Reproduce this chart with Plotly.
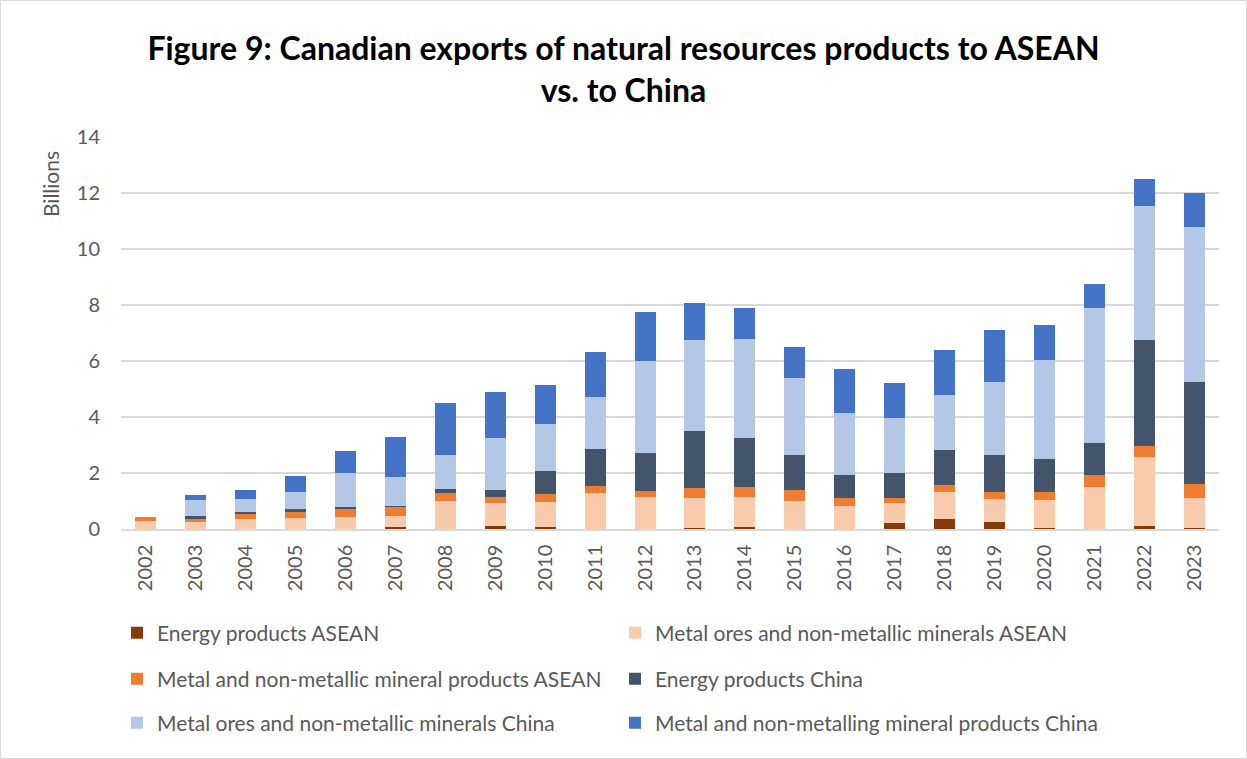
import plotly.graph_objects as go

# Years on the category axis
years = [str(y) for y in range(2002, 2024)]

# Export values, billions of dollars
energy_asean = [0, 0, 0, 0, 0, 0.07, 0, 0.12, 0.06, 0, 0, 0.04, 0.08, 0, 0, 0.21, 0.34, 0.24, 0.04, 0, 0.10, 0.05]
ores_asean = [0.29, 0.24, 0.35, 0.38, 0.44, 0.40, 0.99, 0.81, 0.915, 1.29, 1.15, 1.05, 1.05, 0.99, 0.83, 0.72, 0.98, 0.84, 0.98, 1.49, 2.46, 1.07]
products_asean = [0.13, 0.13, 0.19, 0.22, 0.27, 0.32, 0.28, 0.23, 0.26, 0.26, 0.19, 0.36, 0.36, 0.41, 0.26, 0.19, 0.26, 0.25, 0.29, 0.45, 0.40, 0.49]
energy_china = [0, 0.08, 0.06, 0.10, 0.08, 0.03, 0.16, 0.24, 0.84, 1.31, 1.38, 2.05, 1.75, 1.24, 0.84, 0.88, 1.23, 1.30, 1.18, 1.12, 3.79, 3.64]
ores_china = [0, 0.59, 0.47, 0.61, 1.20, 1.05, 1.22, 1.85, 1.67, 1.87, 3.28, 3.26, 3.56, 2.74, 2.20, 1.95, 1.96, 2.63, 3.55, 4.82, 4.80, 5.54]
products_china = [0, 0.19, 0.34, 0.58, 0.81, 1.43, 1.85, 1.64, 1.40, 1.59, 1.75, 1.31, 1.11, 1.12, 1.57, 1.25, 1.62, 1.83, 1.25, 0.86, 0.95, 1.21]

series = [
    ("Energy products ASEAN", energy_asean, "#843C0C", "legend"),
    ("Metal ores and non-metallic minerals ASEAN", ores_asean, "#F8CBAD", "legend"),
    ("Metal and non-metallic mineral products ASEAN", products_asean, "#ED7D31", "legend2"),
    ("Energy products China", energy_china, "#44546A", "legend2"),
    ("Metal ores and non-metallic minerals China", ores_china, "#B4C7E7", "legend3"),
    ("Metal and non-metalling mineral products China", products_china, "#4472C4", "legend3"),
]

FONT = "Lato, 'Open Sans', sans-serif"
GREY = "#595959"

fig = go.Figure()
for name, vals, color, leg in series:
    fig.add_trace(go.Bar(
        x=years, y=vals, name=name, legend=leg,
        marker=dict(color=color, line=dict(width=0)),
    ))

# Figure geometry (pixels)
W, H = 1247, 759
ML, MR, MT, MB = 121, 28, 137, 230
PW, PH = W - ML - MR, H - MT - MB


def py(pix):
    """Vertical pixel position from the top of the figure -> paper y."""
    return (H - MB - pix) / PH


def px(pix):
    """Horizontal pixel position from the left of the figure -> paper x."""
    return (pix - ML) / PW


legend_common = dict(
    orientation="h", xanchor="left", yanchor="middle",
    font=dict(family=FONT, size=21, color=GREY),
    entrywidth=453, entrywidthmode="pixels",
    traceorder="normal", bgcolor="rgba(0,0,0,0)",
)

fig.update_layout(
    width=W, height=H,
    margin=dict(l=ML, r=MR, t=MT, b=MB),
    paper_bgcolor="white", plot_bgcolor="white",
    barmode="stack", bargap=0.58,
    font=dict(family=FONT, color=GREY),
    title=dict(
        text="Figure 9: Canadian exports of natural resources products to ASEAN<br>vs. to China",
        x=0.5, xanchor="center", y=1 - 60 / H, yanchor="middle",
        font=dict(family=FONT, size=32, color="#000000", weight="bold"),
    ),
    xaxis=dict(
        type="category", tickangle=-90, showgrid=False,
        showline=True, linecolor="#D9D9D9", linewidth=1.5,
        tickfont=dict(family=FONT, size=20, color=GREY),
        ticks="outside", ticklen=6, tickcolor="rgba(0,0,0,0)",
    ),
    yaxis=dict(
        range=[0, 14], dtick=2, showgrid=True, gridcolor="#D9D9D9", gridwidth=1.5,
        zeroline=False, showline=False,
        tickfont=dict(family=FONT, size=20, color=GREY),
        ticks="outside", ticklen=16, tickcolor="rgba(0,0,0,0)",
    ),
    legend=dict(x=px(117), y=py(633), **legend_common),
    legend2=dict(x=px(117), y=py(679), **legend_common),
    legend3=dict(x=px(117), y=py(723), **legend_common),
    annotations=[dict(
        text="Billions", textangle=-90, showarrow=False,
        xref="paper", yref="paper", x=px(50), y=py(184),
        xanchor="center", yanchor="middle",
        font=dict(family=FONT, size=21, color=GREY),
    )],
    shapes=[dict(
        type="rect", xref="paper", yref="paper",
        x0=px(0.5), x1=px(W - 0.5), y0=py(H - 0.5), y1=py(0.5),
        line=dict(color="#D9D9D9", width=1), fillcolor="rgba(0,0,0,0)",
        layer="below",
    )],
)

fig.write_html("out.html")
